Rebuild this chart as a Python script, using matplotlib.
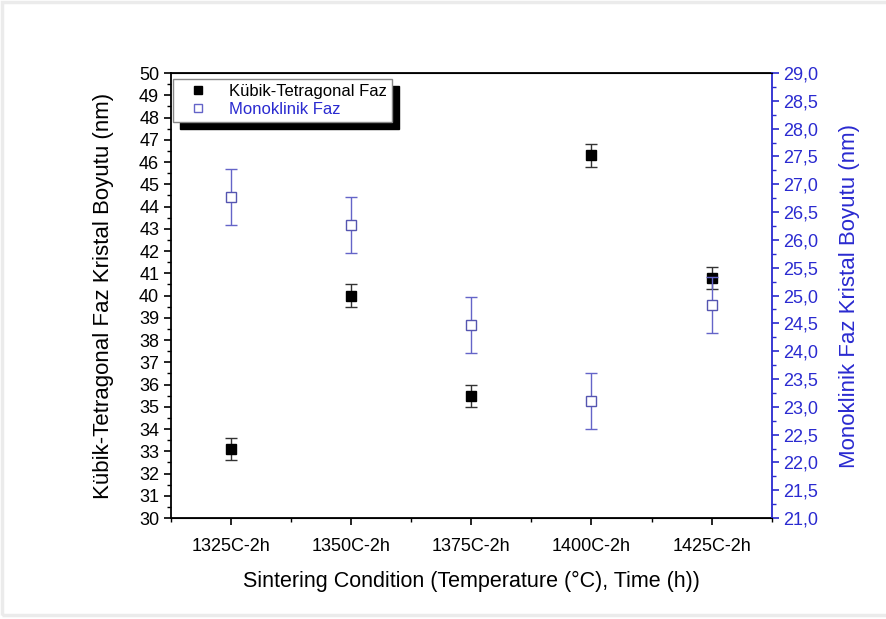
import numpy as np
import matplotlib.pyplot as plt
from matplotlib.lines import Line2D
from matplotlib.patches import Rectangle
from matplotlib.ticker import MultipleLocator, FuncFormatter

plt.rcParams['font.family'] = ['Liberation Sans', 'DejaVu Sans']

# data
conditions = ['1325C-2h', '1350C-2h', '1375C-2h', '1400C-2h', '1425C-2h']
kubik = [33.1, 40.0, 35.5, 46.3, 40.8]
kubik_err = [0.5, 0.5, 0.5, 0.5, 0.5]
mono = [26.77, 26.27, 24.47, 23.1, 24.83]
mono_err = [0.5, 0.5, 0.5, 0.5, 0.5]

blue = '#2a2ad0'
blue_light = '#6464c8'

fig = plt.figure(figsize=(8.86, 6.19), dpi=100)
# faint screenshot frame
fig.patches.append(Rectangle((0.002, 0.006), 1.5, 0.99, transform=fig.transFigure,
                             fill=False, edgecolor='#ebebeb', linewidth=2.5))
ax = fig.add_axes([0.193, 0.163, 0.678, 0.719])
ax2 = ax.twinx()

x = np.arange(len(conditions))

ax.errorbar(x, kubik, yerr=kubik_err, fmt='s', color='black', ecolor='#333333',
            markersize=7, capsize=4, elinewidth=1, capthick=1)
ax2.errorbar(x, mono, yerr=mono_err, fmt='s', color=blue_light, ecolor=blue_light,
             markerfacecolor='white', markeredgecolor='#5555b0', markeredgewidth=1,
             markersize=7, capsize=4, elinewidth=1, capthick=1)

ax.set_xlim(-0.5, 4.5)
ax.set_ylim(30, 50)
ax2.set_ylim(21, 29)

ax.set_xticks(x)
ax.set_xticklabels(conditions)
ax.xaxis.set_minor_locator(MultipleLocator(0.5))
ax.yaxis.set_major_locator(MultipleLocator(1))
ax.yaxis.set_minor_locator(MultipleLocator(0.5))
ax2.yaxis.set_major_locator(MultipleLocator(0.5))
ax2.yaxis.set_minor_locator(MultipleLocator(0.25))
ax2.yaxis.set_major_formatter(FuncFormatter(lambda v, p: f'{v:.1f}'.replace('.', ',')))

ax.tick_params(axis='both', which='major', direction='out', length=5, width=1.2, labelsize=13)
ax.tick_params(axis='both', which='minor', direction='out', length=3, width=1)
ax.tick_params(axis='x', pad=9)
ax2.tick_params(axis='y', which='major', direction='out', length=5, width=1.2,
                labelsize=13, colors=blue)
ax2.tick_params(axis='y', which='minor', direction='out', length=3, width=1, colors=blue)

for s in ['left', 'bottom', 'top']:
    ax.spines[s].set_linewidth(1.3)
ax2.spines['right'].set_color(blue)
ax2.spines['right'].set_linewidth(1.3)
ax2.spines['left'].set_visible(False)
ax.spines['right'].set_visible(False)

ax.set_ylabel('Kübik-Tetragonal Faz Kristal Boyutu (nm)', fontsize=16, labelpad=18)
ax2.set_ylabel('Monoklinik Faz Kristal Boyutu (nm)', fontsize=16, color=blue, labelpad=15)
ax.set_xlabel('Sintering Condition (Temperature (°C), Time (h))', fontsize=15.5, labelpad=12)

handles = [Line2D([], [], ls='none', marker='s', color='black', markersize=6),
           Line2D([], [], ls='none', marker='s', markerfacecolor='white',
                  markeredgecolor=blue_light, markersize=6)]
leg = ax2.legend(handles, ['Kübik-Tetragonal Faz', 'Monoklinik Faz'],
                 loc='upper left', bbox_to_anchor=(0.0, 0.99), fontsize=12,
                 fancybox=False, shadow={'color': 'black', 'alpha': 1, 'ox': 5, 'oy': -5},
                 edgecolor='#888888', framealpha=1, borderpad=0.3, labelspacing=0.15,
                 handlelength=2.4, handletextpad=0.7, borderaxespad=0.1)
leg.get_texts()[1].set_color(blue)

fig.savefig('out.png', dpi=100, facecolor='white')
